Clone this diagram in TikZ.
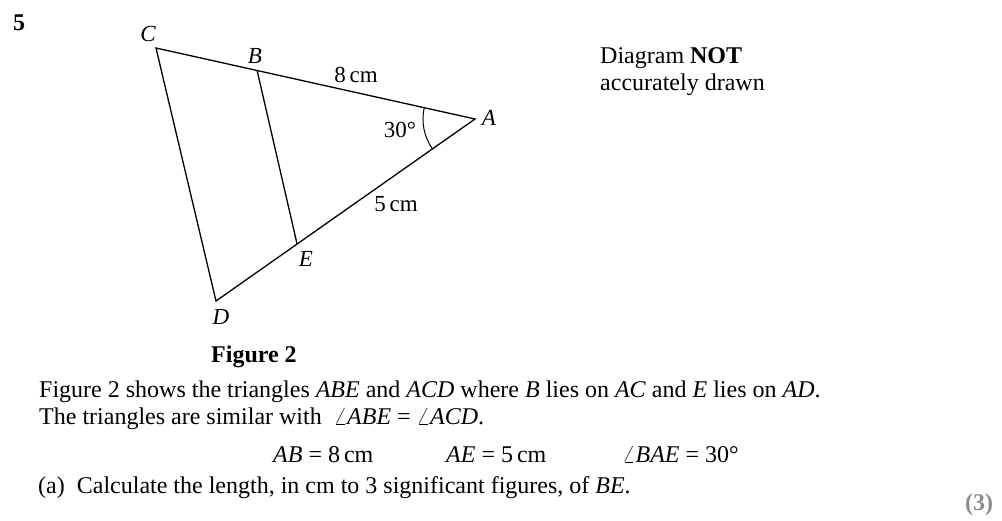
\documentclass[tikz,border=0pt]{standalone}
\usepackage{fontspec}
\setmainfont{Liberation Serif}
\usetikzlibrary{angles}
\usetikzlibrary{calc}
\usetikzlibrary{positioning}
\tikzset{lbl/.style = {font=\fontsize{23}{27}\selectfont\itshape, inner sep = 0}}
\tikzset{len/.style = {font=\fontsize{23}{27}\selectfont, inner sep = 0}}
\tikzset{txt/.style = {font=\fontsize{24}{28}\selectfont, inner sep = 0, anchor = base west}}
\tikzset{bold/.style = {txt, font=\fontsize{24}{28}\selectfont\bfseries}}
\tikzset{seg/.style = {line width = 1.3pt}}
\definecolor{mgray}{rgb}{0.55, 0.55, 0.55}

\begin{document}
\begin{tikzpicture}[x=1pt, y=1pt]
    \useasboundingbox (0, 0) rectangle (1002, -520);
    \coordinate (C) at (156, -48);
    \coordinate (A) at (475, -119);
    \coordinate (D) at (216, -301);
    \coordinate (B) at ($(A)!0.683!(C)$);
    \coordinate (E) at ($(A)!0.687!(D)$);

    \draw [seg] (A) -- (C) -- (D) -- cycle;
    \draw [seg] (B) -- (E);
    \pic [draw, line width = 1pt, angle radius = 52pt] {angle = B--A--E};

    \node (labC) [lbl] at (148, -34) {C};
    \node (labB) [lbl] at (255, -56) {B};
    \node (labA) [lbl] at (489, -118) {A};
    \node (labE) [lbl] at (306, -259) {E};
    \node (labD) [lbl] at (221, -317) {D};
    \node (lenAB) [len] at (356, -75) {8\,cm};
    \node (angA) [len] at (400, -130) {30°};
    \node (lenAE) [len] at (396, -204) {5\,cm};

    \node (num) [bold] at (13, -30) {5};
    \node (fig) [bold] at (211, -362) {Figure 2};
    \node (note1) [txt] at (600, -63) {Diagram \textbf{NOT}};
    \node (note2) [txt] at (600, -90) {accurately drawn};

    \node (line1) [txt] at (39, -397) {Figure 2 shows the triangles \textit{ABE} and \textit{ACD} where \textit{B} lies on \textit{AC} and \textit{E} lies on \textit{AD}.};
    \node (line2) [txt] at (39, -424) {The triangles are similar with\ \ $\angle$\textit{ABE} = $\angle$\textit{ACD}.};
    \node (givAB) [txt] at (273, -462) {\textit{AB} = 8\,cm};
    \node (givAE) [txt] at (446, -462) {\textit{AE} = 5\,cm};
    \node (givA) [txt] at (622, -462) {$\angle$\textit{BAE} = 30°};
    \node (parta) [txt] at (38, -493) {(a)\ \ Calculate the length, in cm to 3 significant figures, of \textit{BE}.};
    \node (mark) [bold, text = mgray] at (965, -510) {(3)};
\end{tikzpicture}
\end{document}
